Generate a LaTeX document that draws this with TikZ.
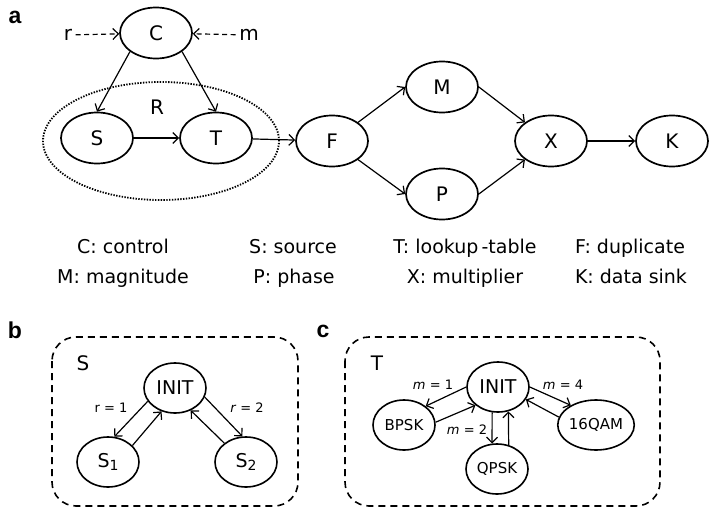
\documentclass[tikz,border=0pt]{standalone}
\usepackage{fontspec}
\setmainfont{DejaVu Sans}
\newfontfamily\labfont{Liberation Sans}
\usetikzlibrary{shapes.geometric,arrows.meta}
\newcommand{\sbs}[1]{\raisebox{-3.5pt}{\fontsize{14}{16}\selectfont #1}}
\tikzset{
  st/.style={ellipse,draw,line width=1.7pt,minimum width=72pt,minimum height=51pt,inner sep=0pt,font=\fontsize{20}{24}\selectfont},
  sm/.style={ellipse,draw,line width=1.6pt,minimum width=62pt,minimum height=50pt,inner sep=0pt},
  conn/.style={line width=1.2pt,-{Straight Barb[length=5.5pt,width=11pt]}},
  dconn/.style={conn,dash pattern=on 5pt off 3.5pt},
  leg/.style={font=\fontsize{19}{23}\selectfont,anchor=base},
  panel/.style={font=\labfont\bfseries\fontsize{23}{26}\selectfont},
  elab/.style={font=\fontsize{13}{15}\selectfont},
  box/.style={draw,line width=1.6pt,rounded corners=24pt,dash pattern=on 7pt off 5pt},
}
\begin{document}
\begin{tikzpicture}[x=1pt,y=-1pt]
\useasboundingbox (0,0) rectangle (709,508);
% panel a
\node[panel] (la) at (15,17) {a};
\node[st] (C) at (156,33) {C};
\node[font=\fontsize{20}{24}\selectfont] (r) at (68,35) {r};
\node[font=\fontsize{20}{24}\selectfont] (m) at (249,35) {m};
\node[st] (S) at (97,138) {S};
\node[st] (T) at (216,138) {T};
\node[draw,ellipse,line width=1.8pt,dash pattern=on 1.4pt off 1.4pt,minimum width=236pt,minimum height=118pt] (R) at (161,141) {};
\node[font=\fontsize{20}{24}\selectfont] (Rl) at (157,107) {R};
\node[st] (F) at (332,141) {F};
\node[st] (M) at (442,87) {M};
\node[st] (P) at (442,194) {P};
\node[st] (X) at (551,141) {X};
\node[st] (K) at (672,141) {K};
\draw[dconn] (r) -- (C);
\draw[dconn] (m) -- (C);
\draw[conn] (C.south west) -- (S.north);
\draw[conn] (C.south east) -- (T.north);
\draw[conn] (S) -- (T);
\draw[conn] (T) -- (F);
\draw[conn] (F.north east) -- (M.west);
\draw[conn] (F.south east) -- (P.west);
\draw[conn] (M.east) -- (X.north west);
\draw[conn] (P.east) -- (X.south west);
\draw[conn] (X) -- (K);
% legend
\node[leg] (l1) at (123,253) {C: control};
\node[leg] (l2) at (293,253) {S: source};
\node[leg] (l3) at (465,253) {T: lookup\,-table};
\node[leg] (l4) at (630,253) {F: duplicate};
\node[leg] (l5) at (123,283) {M: magnitude};
\node[leg] (l6) at (294,283) {P: phase};
\node[leg] (l7) at (465,283) {X: multiplier};
\node[leg] (l8) at (631,283) {K: data sink};
% panel b
\node[panel] (lb) at (15,330) {b};
\draw[box] (52,337) rectangle (298,506);
\node[font=\fontsize{20}{24}\selectfont] (Sb) at (83,363) {S};
\node[sm,font=\fontsize{19}{23}\selectfont] (Ib) at (175,388) {INIT};
\node[sm,font=\fontsize{19}{23}\selectfont] (S1) at (108,462) {S\sbs{1}};
\node[sm,font=\fontsize{19}{23}\selectfont] (S2) at (246,462) {S\sbs{2}};
\draw[conn] (Ib.206) -- (S1.76);
\draw[conn] (S1.34) -- (Ib.240);
\draw[conn] (Ib.343) -- (S2.98);
\draw[conn] (S2.139) -- (Ib.305);
\node[elab] (r1) at (111,408) {r = 1};
\node[elab] (r2) at (247,408) {\textit{r} = 2};
% panel c
\node[panel] (lc) at (323,331) {c};
\draw[box] (345,337) rectangle (660,506);
\node[font=\fontsize{20}{24}\selectfont] (Tc) at (377,363) {T};
\node[sm,font=\fontsize{19}{23}\selectfont] (Ic) at (498,387) {INIT};
\node[sm,font=\fontsize{15}{18}\selectfont] (BP) at (404,425) {BPSK};
\node[sm,font=\fontsize{15}{18}\selectfont] (QP) at (497,469) {QPSK};
\node[sm,minimum width=66pt,font=\fontsize{15}{18}\selectfont] (QA) at (596,425) {16QAM};
\draw[conn] (Ic.180) -- (BP.41);
\draw[conn] (BP.5) -- (Ic.219);
\draw[conn] (Ic.257) -- (QP.101);
\draw[conn] (QP.64) -- (Ic.293);
\draw[conn] (Ic.0) -- (QA.142);
\draw[conn] (QA.168) -- (Ic.336);
\node[elab] (m1) at (433,385) {\textit{m} = 1};
\node[elab] (m4) at (563,385) {\textit{m} = 4};
\node[elab] (m2) at (467,430) {\textit{m} = 2};
\end{tikzpicture}
\end{document}
